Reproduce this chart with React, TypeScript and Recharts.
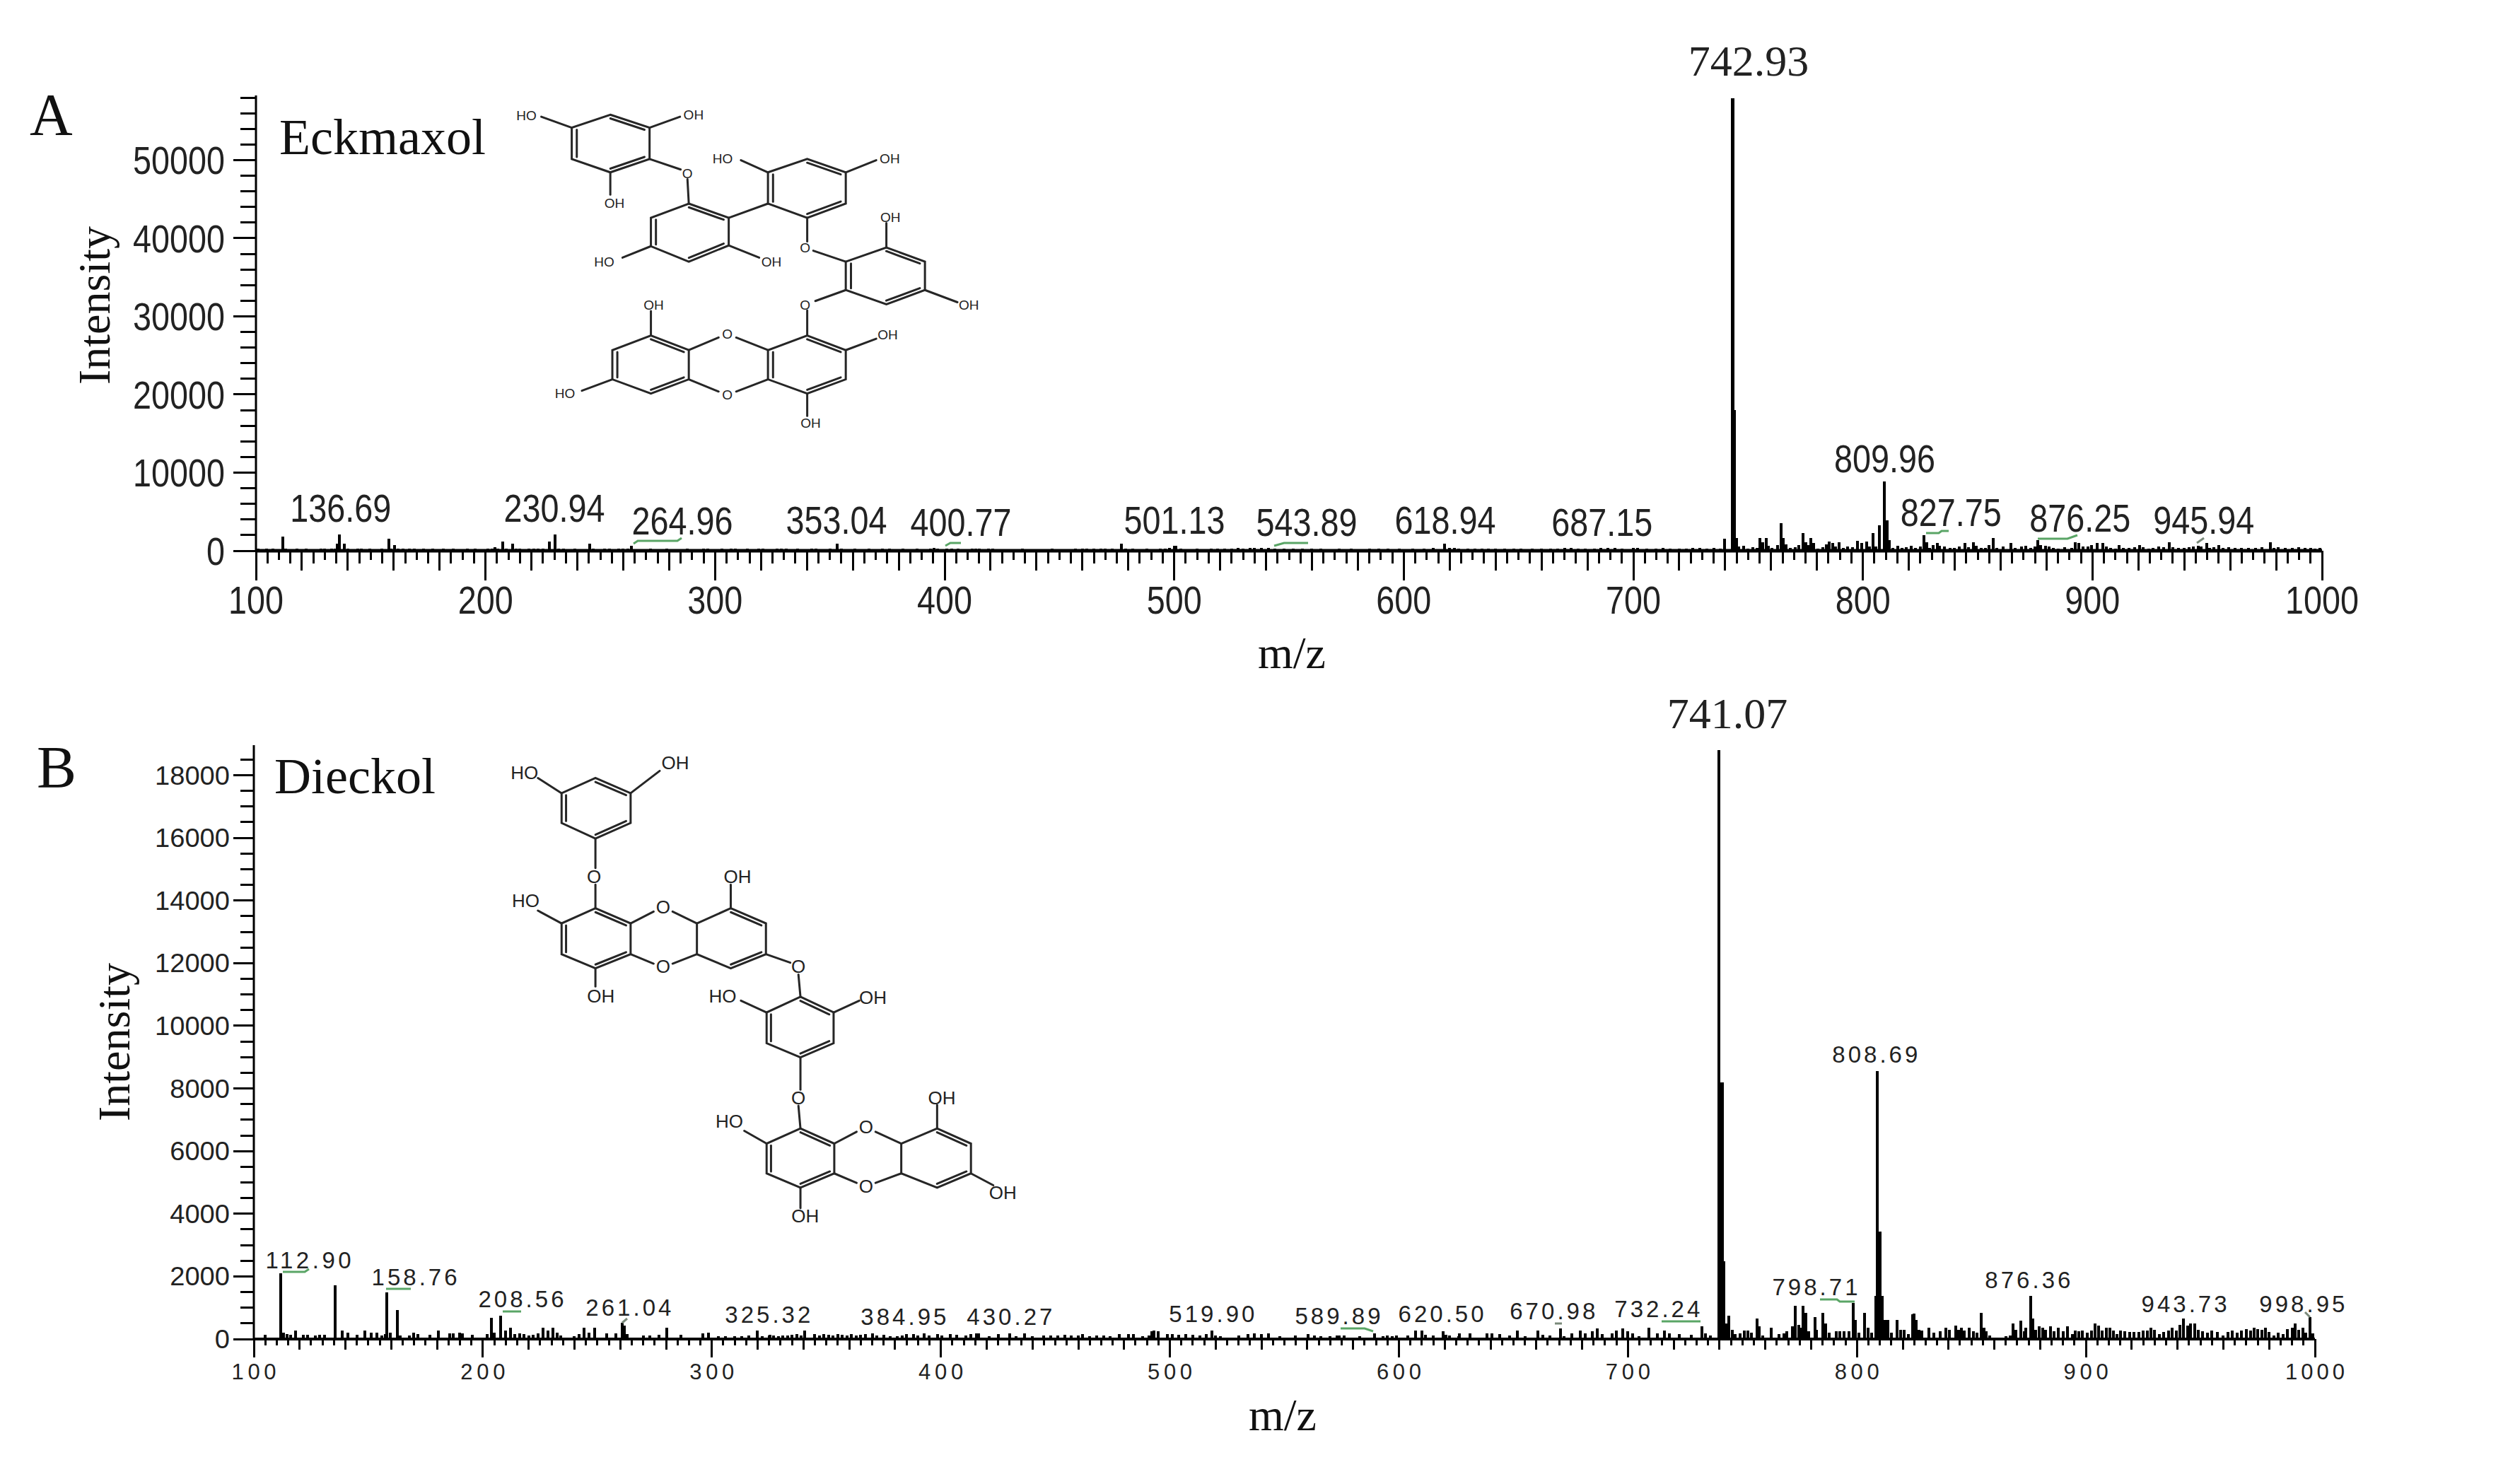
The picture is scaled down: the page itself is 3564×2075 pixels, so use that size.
import React from 'react';
import { ComposedChart, Bar, XAxis, YAxis, ReferenceDot } from 'recharts';

type Peak = [number, number];
type Lab = [string, number, number];

// ---- Panel A data (m/z, intensity) ----
const peaksA: Peak[] = [
  [111.7,1810],[135.5,900],[136.5,2110],[138.5,900],[158,1510],[160.5,750],[204,450],[207.6,1150],[211.8,900],[228,1150],[230.3,2110],[245.4,900],[263.7,600],
  [353.1,900],[476.9,900],[500.2,600],[500.8,600],[617.8,900],[739.7,1510],
];
const noiseA1: Peak[] = [
  [101,250],[103,200],[104.5,280],[106,220],[107.5,260],[110,200],[113,240],[114.5,200],[118,300],[120,220],[122,260],[123.5,210],[127,210],[128.5,230],[130,260],[131.5,200],[133,240],[134.5,280],[140,300],[141.5,220],[144.5,240],[146,260],[148,220],[149.5,240],[155,260],[156.5,220],[159,300],[162,280],[164,240],[165.5,220],[167,260],[169,240],[171,210],[173,260],[175,220],[177,260],[179.5,210],[181.5,260],[184,210],[186,250],[189,210],[192,260],[195.5,230],[198,200],[201,240],[203,300],[205.5,260],[209,300],[213.5,280],[215,260],[217,220],[219,260],[221,240],[223,280],[225,260],[227,220],[232,300],[234,240],[236,220],[239,260],[242,210],[244,220],[247,240],[250,220],[252,260],[254,240],[256,220],[258,260],[260,280],[262,300],[266,220],[269,200],[272,260],[275,220],[279,250],[282,210],[288,240],[291,200],[295,260],[297,240],[299,220],
  [303,240],[305,200],[307,260],[309,240],[311,220],[314,260],[317,200],[319,240],[321,260],[324,210],[327,280],[329,300],[331,260],[334,220],[336,250],[339,200],[342,260],[344,240],[347,220],[350,260],[355,250],[358,220],[361,250],[364,210],[367,240],[370,210],[373,230],[376,240],[379,210],[382,250],[385,220],[388,260],[391,220],[394,300],[395.5,320],[397,280],[401,230],[403,300],[406,240],
];
const noiseA2: Peak[] = [
  [412,300],[413.5,310],[415,260],[419,280],[421,300],[425,180],[431,200],[434,260],[437,180],[444,220],[447,240],[451,220],[454,200],[457,240],[460,260],[462,240],[465,260],[468,300],[470,310],[473,260],[479,260],[482,250],[485,220],[488,260],[491,210],[494,280],[496,300],[498,360],[503,260],[506,210],[510,240],[513,210],[516,260],[519,230],[522,280],[525,300],[528,320],[530,300],[533,340],[535,360],[538,340],[541,320],[544,300],[548,260],[552,280],[556,240],[560,230],[564,260],[568,220],[572,240],[577,260],[581,210],[585,230],[589,250],[593,280],[598,250],[604,300],[609,230],[613,320],[620,350],[622,320],[624,280],[628,260],[631,280],[634,240],[637,300],[640,280],[644,240],[648,300],[651,240],[656,240],[660,240],[664,300],[667,260],[670,320],[673,320],[676,280],[679,230],[683,300],[686,320],[689,320],[692,320],[695,280],[700,340],[702,340],[706,280],[710,240],[713,320],[716,280],[720,300],[723,300],[726,340],[729,340],[732,260],[735,320],[738,240],
];
const mainA: Peak[] = [[743,57900],[743.6,57900],[744.2,18000],[745,1660],[746,500]];
const noiseA3: Peak[] = [
  [748.1,660],[750,300],[752,450],[754,400],[755.2,1660],[756.3,1050],[757.8,1660],[758.8,600],[760.5,400],[762.8,750],[764.3,3560],[765.2,1660],[766.5,800],[768.5,350],[770.5,450],[772,700],[774,2260],[775.3,1050],[776,700],[777.3,1660],[778.5,1000],[780.5,300],[782.5,450],[784,800],[785.5,1200],[786.8,1000],[788,500],[789.8,1050],[791.5,400],[793.5,500],[795.5,450],[797.8,1270],[799.5,1000],[801.7,1200],[803,500],[804.3,2260],[805.6,500],[807.3,3230],[809.5,8900],[810.6,3930],[811.6,1360],[813,400],[815.1,600],[817,350],[819,420],[821,600],[823,400],[825,550],[826.5,1960],[827.8,1050],[829,400],[830.5,700],[832.4,1000],[833.5,600],[835.5,500],[838,350],[840,380],[842,500],[844.5,1000],[846,450],[848.2,1050],[849.5,600],[851.5,350],[853.5,400],[855,700],[856.8,1660],[858.5,350],[861,500],[864.4,1000],[866.5,350],[869,550],[871,650],[873,400],[875,500],[876.2,1360],[877.5,700],[879.5,650],[881,500],[883,350],[885,300],[888,450],[891,350],[892.5,1050],[894,1000],[896,500],[898,500],[899.5,700],[902.2,1000],[904.4,1000],[906,500],[908,400],[910,300],[911.5,700],[913.5,400],[916,350],[918.5,450],[920.5,700],[922,450],[924.5,300],[926.5,350],[929,500],[931,450],[933.5,1050],[935,450],[937.5,400],[940,350],[942,450],[944,500],[946,600],[947.5,550],[949.7,1000],[951,400],[953,450],[955,700],[957,400],[959.5,450],[962,400],[965,350],[968,400],[971,350],[974,450],[977.4,1050],[979,400],[981,450],[984,350],[987,400],[990,450],[992.5,350],[995,400],[997,300],[999,350],
];
const dataA = [...peaksA, ...noiseA1, ...noiseA2, ...mainA, ...noiseA3].map(([mz, i]) => ({ mz, i }));
const labelsA: Lab[] = [
  ['136.69',136.9,3710],['230.94',230,3710],['264.96',285.7,2080],['353.04',352.9,2170],['400.77',407.1,1900],['501.13',500.1,2170],['543.89',557.7,1900],['618.94',618.1,2170],['687.15',686.4,1900],['809.96',809.5,10050],['827.75',838.4,3170],['876.25',894.6,2440],['945.94',948.5,2170],
];
const topLabelA: Lab = ['742.93',750.2,60820];

// ---- Panel B data (m/z, intensity) ----
const peaksB: Peak[] = [
  [105.1,128],[111.7,2105],[113,200],[114.5,150],[116,130],[118.2,278],[121.5,128],[123.5,128],[127,120],[128.6,128],[131,128],[135.5,1707],[138.5,278],[141,203],[145,128],[148.5,278],[151.3,203],[153.8,203],[156,120],[157.5,150],[158.2,1481],[159.6,203],[162.6,917],[164,120],[168,110],[169.9,203],[171.5,150],[176.8,128],[180.7,278],[185.5,180],[187.2,180],[189.9,203],[191,180],[195.4,128],[202,160],[203.7,677],[205,200],[207.8,752],[209.9,278],[212,353],[214,150],[216,180],[218,150],[220,120],[222,130],[224,180],[226.4,353],[228.5,278],[230.6,353],[232.4,203],[234,120],[240,100],[242,150],[244.3,353],[246.3,203],[248.8,353],[254,180],[258,180],[260.9,526],[261.7,420],[263,150],[270,120],[273,110],[277,130],[280.2,353],[286.4,128],[296,180],[298.5,203],
];
const noiseB1: Peak[] = [
  [303,90],[306,100],[310,80],[313,90],[316,110],[320,263],[322,80],[325,110],[325.4,130],[327,112],[329,90],[331,120],[333,112],[335,130],[337,150],[339,120],[340.6,263],[345,150],[347,110],[349,150],[351,130],[353,120],[355,150],[357,130],[359,110],[361,150],[363,120],[365,130],[367,150],[370.3,188],[372,120],[375,130],[378,100],[381,90],[383,110],[385,150],[388,165],[390,120],[392.6,188],[395,120],[398.5,150],[400.5,120],[404,165],[407,130],[411,120],[413,150],[415.7,188],[416.5,188],[421,100],[425,165],[430.2,188],[433,90],[436.7,188],[440,80],[445,110],[448,120],[451,110],[454,130],[457,120],[460,110],[462,150],[465,100],[468,120],[471,110],[474,100],[478,150],[482,165],[484,150],[488,90],[491,110],[492,240],[493,263],[495,240],[499,165],[501,150],[504,130],[507,150],[510,130],[513,110],[516,150],[518.4,263],[520,120],[522,100],
];
const noiseB2: Peak[] = [
  [530,120],[534.2,165],[537,180],[540,165],[543,188],[548,80],[554.7,110],[560.4,165],[563,110],[566,90],[570,80],[573,110],[574,120],[576,110],[583,90],[589.5,188],[593,100],[595,110],[597,100],[599,110],[604,110],[607.2,263],[610,263],[611.5,130],[615,110],[619.2,240],[620.5,130],[622,110],[626,100],[626.4,188],[631,188],[638.4,188],[640.5,188],[644,165],[648.3,120],[651.6,263],[655,90],[660.8,263],[663,130],[666,110],[670.7,338],[672,100],[675.5,188],[679.2,263],[681.5,188],[684.5,240],[686.6,338],[688.7,150],[693,188],[695,263],[697.9,338],[700,240],[702,188],[705,100],[709.2,350],[713,188],[716,263],[718,188],[722.5,165],[727.6,130],[732.2,414],[734,188],[736,120],
];
const mainB: Peak[] = [[739.8,18800],[740.5,8200],[741.4,8200],[742,2480],[742.9,500]];
const noiseB3: Peak[] = [
  [744.1,737],[745.5,300],[747,150],[749,180],[751,280],[752.5,280],[754,200],[756.3,663],[757.3,400],[759,120],[762.5,350],[766,150],[768,180],[769.5,250],[771.9,414],[773.2,1059],[774.5,450],[775.2,370],[776.4,1059],[777.7,830],[779,250],[781.6,690],[782.5,300],[785,830],[786.4,500],[788,200],[791,240],[792.5,240],[794.5,240],[796.5,240],[798.3,1150],[799.4,600],[801,200],[803.5,830],[805,370],[806.5,200],[808.2,1380],[808.9,8565],[810,3426],[811,1380],[812.4,600],[813.5,600],[815,200],[817.6,600],[819,300],[820.5,300],[822.5,150],[824.3,783],[825.1,810],[826,600],[827,300],[828.5,280],[831.4,350],[833.5,200],[836.5,250],[839,350],[840.5,300],[843.3,433],[844.5,300],[845.5,370],[847,280],[849,350],[851,250],[852.5,200],[854.2,830],[855.5,370],[856.5,250],[858,120],[865,100],[867,120],[868.2,507],[869.5,300],[871.5,580],[873,250],[873.6,370],[875.8,1380],[876.9,663],[878,300],[879.5,415],[881,370],[882.5,300],[884.5,415],[886,250],[888,370],[890,250],[892,415],[894,150],[895.5,280],[897,250],[898.5,280],[900.5,200],[902.5,280],[904,507],[905.5,420],[907,280],[909,370],[910.5,350],[912,280],[913.5,150],[915,280],[917,250],[919,230],[921,230],[923,220],[925,280],[927,280],[928.5,350],[930,300],[932,150],[934,220],[936,280],[937.8,370],[939.5,280],[941,460],[942.7,663],[944.5,420],[945.8,507],[947.5,507],[949,300],[951,240],[953,200],[955,280],[957.5,220],[960,120],[962,220],[964,280],[966,200],[968,280],[970,320],[972,280],[973.5,350],[975,320],[977,300],[978.5,350],[980,220],[982,120],[984,200],[986,150],[988,320],[990,370],[991.5,507],[993,300],[994.8,350],[996,200],[997.8,690],[999,180],
];
const dataB = [...peaksB, ...noiseB1, ...noiseB2, ...mainB, ...noiseB3].map(([mz, i]) => ({ mz, i }));
const labelsB: Lab[] = [
  ['112.90',123.8,2257],['158.76',170.1,1715],['208.56',216.7,1016],['261.04',263.6,745],['325.32',324.4,519],['384.95',383.7,451],['430.27',430,451],['519.90',518.3,542],['589.89',573.3,474],['620.50',618.4,542],['670.98',667.1,632],['732.24',712.8,700],['798.71',781.7,1400],['808.69',807.9,8825],['876.36',874.6,1625],['943.73',942.9,858],['998.95',994.4,858],
];
const topLabelB: Lab = ['741.07',743.4,19500];

// ---- Axis ticks ----
const xTicks: number[] = [];
for (let m = 100; m <= 1000; m += 5) xTicks.push(m);
const yTicksA: number[] = [];
for (let v = 0; v <= 58000; v += 2000) yTicksA.push(v);
const yTicksB: number[] = [];
for (let v = 0; v <= 18500; v += 500) yTicksB.push(v);

// ---- Annotation leader lines, in page pixels ----
const GREEN = '#5aa566';
const GREY = '#7a8a7a';
const leadersA: [string, string][] = [
  ['896,769 902,765 958,765 964,761', GREEN],['1337,772 1344,768 1359,768', GREEN],['1802,772 1816,768 1850,768', GREEN],
  ['2724,754 2742,754 2746,751 2756,751', GREEN],['2882,762 2924,762 2938,757', GREEN],['3107,768 3117,761', GREY],
];
const leadersB: [string, string][] = [
  ['400,1799 431,1799 437,1795', GREEN],['546,1823 581,1823', GREEN],['711,1855 737,1855', GREEN],['880,1871 887,1865', GREY],
  ['1896,1879 1930,1879 1942,1883', GREEN],['2199,1872 2209,1872', GREY],['2350,1869 2405,1869', GREEN],
  ['2574,1838 2598,1838 2602,1841 2623,1841', GREEN],['3260,1856 3267,1863', GREY],
];

// ---- Chemical structures, in crop coordinates mapped below ----
type P = [number, number];
type Ring = { pts: P[]; dbl: number[] };
type Mol = { rings: Ring[]; bonds: [P, P][]; atoms: [string, number, number][] };

const molA: Mol = {
  rings: [
    { pts: [[902,213],[960,245],[960,322],[902,355],[845,322],[845,245]], dbl: [0,2,4] },
    { pts: [[1018,432],[1077,467],[1077,535],[1018,575],[962,537],[962,467]], dbl: [0,2,4] },
    { pts: [[1135,355],[1193,322],[1250,355],[1250,432],[1193,467],[1135,432]], dbl: [1,3,5] },
    { pts: [[1250,575],[1310,540],[1367,575],[1367,645],[1310,680],[1250,645]], dbl: [1,3,5] },
    { pts: [[1193,757],[1250,793],[1250,865],[1193,900],[1135,865],[1135,793]], dbl: [0,2,4] },
    { pts: [[1018,793],[962,757],[905,793],[905,865],[962,900],[1018,865]], dbl: [0,2,4] },
  ],
  bonds: [
    [[845,245],[800,218]],[[960,245],[1005,218]],[[902,355],[902,410]],[[960,322],[1006,348]],[[1016,372],[1018,432]],
    [[962,537],[920,565]],[[1077,535],[1122,565]],[[1077,467],[1135,432]],[[1135,355],[1095,325]],[[1250,355],[1295,325]],
    [[1193,467],[1193,525]],[[1202,548],[1250,575]],[[1310,540],[1310,480]],[[1367,645],[1415,675]],[[1250,645],[1205,672]],[[1193,695],[1193,757]],
    [[1193,900],[1193,955]],[[1250,793],[1295,765]],[[1135,793],[1088,762]],[[1062,762],[1018,793]],[[1018,865],[1062,895]],[[1088,895],[1135,865]],
    [[962,757],[962,697]],[[905,865],[860,893]],
  ],
  atoms: [
    ['HO',778,215],['OH',1025,213],['OH',908,430],['O',1016,358],['HO',893,575],['OH',1140,575],['HO',1068,320],['OH',1315,320],['O',1190,540],
    ['OH',1316,466],['OH',1432,682],['O',1190,682],['OH',1198,972],['OH',1312,755],['O',1075,753],['O',1075,902],['OH',966,682],['HO',835,900],
  ],
};
const molB: Mol = {
  rings: [
    { pts: [[880,150],[932,182],[932,245],[880,278],[830,245],[830,182]], dbl: [0,2,4] },
    { pts: [[880,425],[932,457],[932,522],[880,552],[830,522],[830,457]], dbl: [0,2,4] },
    { pts: [[1030,457],[1080,425],[1132,457],[1132,522],[1080,552],[1030,522]], dbl: [1,3] },
    { pts: [[1183,612],[1232,645],[1232,710],[1183,740],[1133,710],[1133,645]], dbl: [0,2,4] },
    { pts: [[1183,890],[1233,922],[1233,985],[1183,1015],[1133,985],[1133,922]], dbl: [0,2,4] },
    { pts: [[1332,922],[1385,890],[1435,922],[1435,985],[1385,1015],[1332,985]], dbl: [1,3] },
  ],
  bonds: [
    [[932,182],[975,135]],[[830,182],[795,150]],[[880,278],[880,340]],[[880,375],[880,425]],[[830,457],[795,430]],[[880,552],[880,590]],
    [[932,457],[966,432]],[[994,432],[1030,457]],[[932,522],[966,542]],[[994,542],[1030,522]],[[1080,425],[1080,375]],[[1132,522],[1168,540]],
    [[1180,565],[1183,612]],[[1133,645],[1095,620]],[[1232,645],[1270,620]],[[1183,740],[1183,808]],[[1180,842],[1183,890]],[[1133,922],[1100,895]],
    [[1183,1015],[1183,1058]],[[1233,922],[1266,897]],[[1294,897],[1332,922]],[[1233,985],[1266,1005]],[[1294,1005],[1332,985]],[[1385,890],[1385,840]],[[1435,985],[1468,1010]],
  ],
  atoms: [
    ['OH',998,117],['HO',775,138],['O',878,358],['HO',777,408],['OH',888,610],['O',980,422],['O',980,548],['OH',1090,358],['O',1180,548],['HO',1068,610],['OH',1290,613],
    ['O',1180,825],['HO',1078,875],['OH',1190,1075],['O',1280,887],['O',1280,1012],['OH',1392,825],['OH',1482,1025],
  ],
};

const Molecule = ({ mol, sx, oy, sy, font, sw }: { mol: Mol; sx: number; oy: number; sy: number; font: number; sw: number }) => {
  const fx = (x: number) => x / sx;
  const fy = (y: number) => oy + y / sy;
  return (
    <g stroke="#262626" strokeWidth={sw} fill="none" strokeLinecap="round">
      {mol.rings.map((r, ri) => {
        const cx = r.pts.reduce((s, p) => s + p[0], 0) / r.pts.length;
        const cy = r.pts.reduce((s, p) => s + p[1], 0) / r.pts.length;
        return (
          <g key={ri}>
            <polygon points={r.pts.map((p) => `${fx(p[0])},${fy(p[1])}`).join(' ')} />
            {r.dbl.map((e) => {
              const a = r.pts[e];
              const b = r.pts[(e + 1) % r.pts.length];
              const k = 0.87;
              return (
                <line key={e} x1={fx(cx + (a[0] - cx) * k)} y1={fy(cy + (a[1] - cy) * k)} x2={fx(cx + (b[0] - cx) * k)} y2={fy(cy + (b[1] - cy) * k)} />
              );
            })}
          </g>
        );
      })}
      {mol.bonds.map((b, i) => (
        <line key={i} x1={fx(b[0][0])} y1={fy(b[0][1])} x2={fx(b[1][0])} y2={fy(b[1][1])} />
      ))}
      {mol.atoms.map(([t, x, y], i) => (
        <text key={i} x={fx(x)} y={fy(y) + font * 0.36} textAnchor="middle" fontFamily="Liberation Sans" fontSize={font} fill="#222" stroke="none">
          {t}
        </text>
      ))}
    </g>
  );
};

const SANS = 'Liberation Sans';
const SERIF = 'Liberation Serif';
const digitsEm = (s: string) => [...s].reduce((w, c) => w + (c === '.' ? 0.278 : 0.556), 0);

const XTick = (L: { maj: number; med: number; sm5: number; sm10: number; sw: number; size: number; ratio: number; dy: number }) => (p: any) => {
  const m = p.payload.value;
  const len = m % 100 === 0 ? L.maj : m % 20 === 0 ? L.med : m % 10 === 5 ? L.sm5 : L.sm10;
  return (
    <g>
      <line x1={p.x} x2={p.x} y1={p.y} y2={p.y + len} stroke="#000" strokeWidth={L.sw} shapeRendering="crispEdges" />
      {m % 100 === 0 && (
        <text x={p.x} y={p.y + L.dy} textAnchor="middle" fontFamily={SANS} fontSize={L.size} fill="#222" textLength={digitsEm(String(m)) * L.size * L.ratio} lengthAdjust={L.ratio < 1 ? 'spacingAndGlyphs' : 'spacing'}>
          {m}
        </text>
      )}
    </g>
  );
};
const YTick = (L: { maj: number; min: number; every: number; sw: number; size: number; ratio: number; gap: number; dy: number }) => (p: any) => {
  const v = p.payload.value;
  const isMaj = v % L.every === 0;
  return (
    <g>
      <line x1={p.x - (isMaj ? L.maj : L.min)} x2={p.x} y1={p.y} y2={p.y} stroke="#000" strokeWidth={L.sw} shapeRendering="crispEdges" />
      {isMaj && (
        <text x={p.x - L.gap} y={p.y + L.dy} textAnchor="end" fontFamily={SANS} fontSize={L.size} fill="#222" textLength={digitsEm(String(v)) * L.size * L.ratio} lengthAdjust="spacingAndGlyphs">
          {v}
        </text>
      )}
    </g>
  );
};

const PeakLabel = (o: { text: string; size: number; ratio: number; family?: string }) => (p: any) => (
  <text
    x={p.cx}
    y={p.cy}
    textAnchor="middle"
    fontFamily={o.family ?? SANS}
    fontSize={o.size}
    fill="#222"
    {...(o.family ? {} : { textLength: digitsEm(o.text) * o.size * o.ratio, lengthAdjust: o.ratio < 1 ? 'spacingAndGlyphs' : 'spacing' })}
  >
    {o.text}
  </text>
);

// Spectrum stick: centred on the x the library computed, with a fixed line thickness.
const Stick = (thick: number) => (p: any) => (
  <rect x={p.x + p.width / 2 - thick / 2} y={p.y} width={thick} height={p.height} fill="#000" shapeRendering="crispEdges" />
);

const titleStyle = { fontFamily: SERIF, fill: '#111' };

export default function App() {
  return (
    <div style={{ position: 'absolute', left: 0, top: 0, width: 3564, height: 2075, background: '#fff', overflow: 'hidden' }}>
      {/* Panel A */}
      <div style={{ position: 'absolute', left: 0, top: 0 }}>
        <ComposedChart width={3564} height={1000} data={dataA} margin={{ top: 135, right: 280, bottom: 161, left: 302 }}>
          <XAxis
            dataKey="mz"
            type="number"
            scale="linear"
            domain={[100, 1000]}
            ticks={xTicks}
            interval={0}
            height={60}
            tickSize={0}
            tickMargin={0}
            axisLine={{ stroke: '#000', strokeWidth: 5 }}
            tickLine={false}
            tick={XTick({ maj: 42, med: 28, sm5: 18, sm10: 13, sw: 3, size: 55, ratio: 0.85, dy: 89 })}
            label={{ content: () => <text x={1827} y={945} textAnchor="middle" fontSize={64} style={titleStyle}>m/z</text> }}
          />
          <YAxis
            type="number"
            domain={[0, 58280]}
            ticks={yTicksA}
            interval={0}
            width={60}
            tickSize={0}
            tickMargin={0}
            axisLine={{ stroke: '#000', strokeWidth: 3 }}
            tickLine={false}
            tick={YTick({ maj: 32, min: 22, every: 10000, sw: 3, size: 55, ratio: 0.85, gap: 44, dy: 20 })}
            label={{ content: () => <text transform="translate(155,432) rotate(-90)" textAnchor="middle" fontSize={64} style={titleStyle}>Intensity</text> }}
          />
          <Bar dataKey="i" fill="#000" barSize={4} isAnimationActive={false} shape={Stick(4)} />
          {labelsA.map(([t, x, y]) => (
            <ReferenceDot key={t} x={x} y={y} r={0} ifOverflow="visible" shape={PeakLabel({ text: t, size: 55, ratio: 0.85 })} />
          ))}
          <ReferenceDot x={topLabelA[1]} y={topLabelA[2]} r={0} ifOverflow="visible" shape={PeakLabel({ text: topLabelA[0], size: 62, ratio: 1, family: SERIF })} />
        </ComposedChart>
      </div>
      {/* Panel B */}
      <div style={{ position: 'absolute', left: 0, top: 0 }}>
        <ComposedChart width={3564} height={2075} data={dataB} margin={{ top: 1054, right: 290, bottom: 121, left: 299 }}>
          <XAxis
            dataKey="mz"
            type="number"
            scale="linear"
            domain={[100, 1000]}
            ticks={xTicks}
            interval={0}
            height={60}
            tickSize={0}
            tickMargin={0}
            axisLine={{ stroke: '#000', strokeWidth: 4 }}
            tickLine={false}
            tick={XTick({ maj: 26, med: 15, sm5: 9, sm10: 9, sw: 3, size: 31, ratio: 1.22, dy: 57 })}
            label={{ content: () => <text x={1814} y={2023} textAnchor="middle" fontSize={64} style={titleStyle}>m/z</text> }}
          />
          <YAxis
            type="number"
            domain={[0, 18960]}
            ticks={yTicksB}
            interval={0}
            width={60}
            tickSize={0}
            tickMargin={0}
            axisLine={{ stroke: '#000', strokeWidth: 3 }}
            tickLine={false}
            tick={YTick({ maj: 29, min: 19, every: 2000, sw: 3, size: 37, ratio: 1.03, gap: 34, dy: 13 })}
            label={{ content: () => <text transform="translate(183,1474) rotate(-90)" textAnchor="middle" fontSize={64} style={titleStyle}>Intensity</text> }}
          />
          <Bar dataKey="i" fill="#000" barSize={4} isAnimationActive={false} shape={Stick(4)} />
          {labelsB.map(([t, x, y]) => (
            <ReferenceDot key={t} x={x} y={y} r={0} ifOverflow="visible" shape={PeakLabel({ text: t, size: 33, ratio: 1.2 })} />
          ))}
          <ReferenceDot x={topLabelB[1]} y={topLabelB[2]} r={0} ifOverflow="visible" shape={PeakLabel({ text: topLabelB[0], size: 62, ratio: 1, family: SERIF })} />
        </ComposedChart>
      </div>
      {/* Panel letters, compound names, structures and leader lines */}
      <svg width={3564} height={2075} style={{ position: 'absolute', left: 0, top: 0, pointerEvents: 'none' }}>
        <text x={42} y={191} fontFamily={SERIF} fontSize={84} fill="#111">A</text>
        <text x={52} y={1114} fontFamily={SERIF} fontSize={84} fill="#111">B</text>
        <text x={395} y={218} fontFamily={SERIF} fontSize={72} fill="#111">Eckmaxol</text>
        <text x={388} y={1122} fontFamily={SERIF} fontSize={72} fill="#111">Dieckol</text>
        <Molecule mol={molA} sx={1.045} oy={40} sy={1.742} font={19} sw={3} />
        <Molecule mol={molB} sx={1.045} oy={1000} sy={1.493} font={26} sw={3} />
        {[...leadersA, ...leadersB].map(([pts, c], i) => (
          <polyline key={i} points={pts} fill="none" stroke={c} strokeWidth={3} />
        ))}
      </svg>
    </div>
  );
}
